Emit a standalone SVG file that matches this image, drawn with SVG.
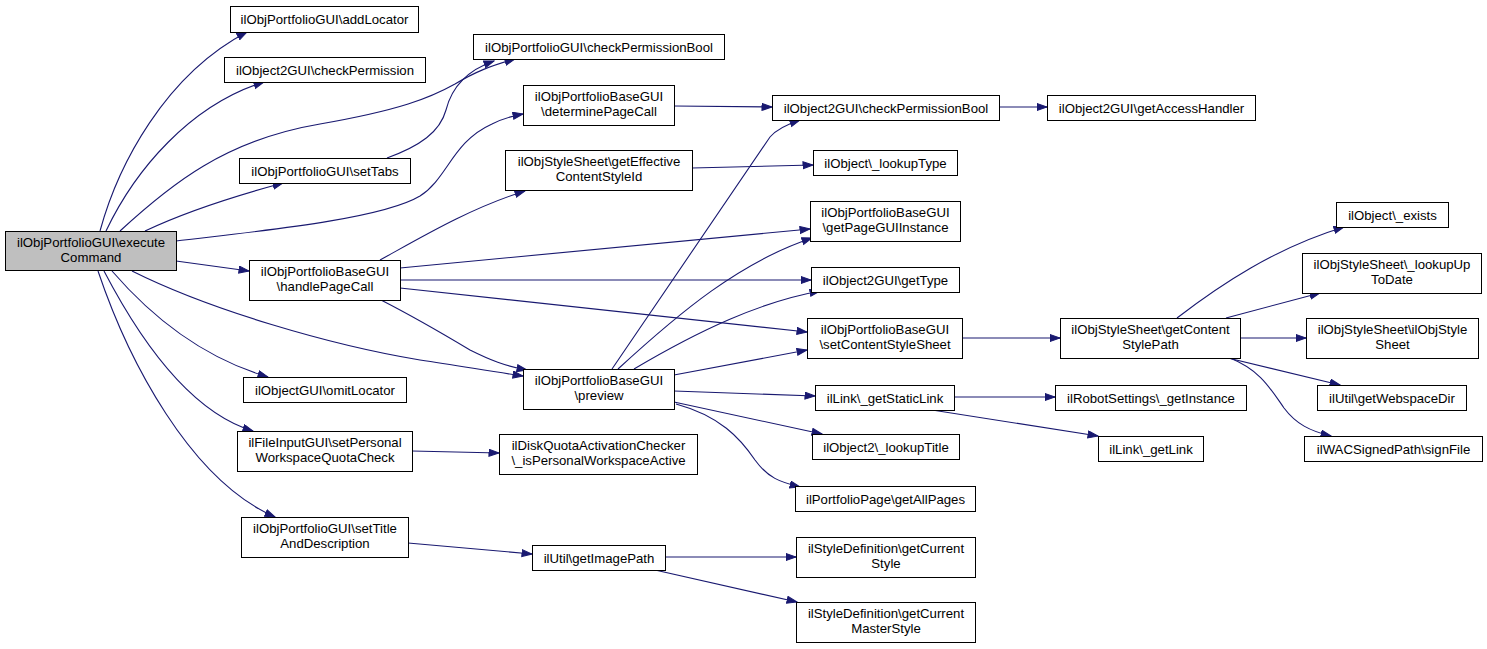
<svg xmlns="http://www.w3.org/2000/svg" width="1487" height="649" viewBox="0 0 1487 649">
<style>
.n rect{fill:#ffffff;stroke:#000000;stroke-width:1}
.n.root rect{fill:#bfbfbf}
.n text{font-family:"Liberation Sans",Arial,sans-serif;font-size:13.2px;fill:#000000;text-anchor:middle}
.e path{fill:none;stroke:#191970;stroke-width:1.1;marker-end:url(#ah)}
</style>
<defs>
<marker id="ah" markerUnits="userSpaceOnUse" markerWidth="12" markerHeight="9" refX="10.5" refY="4" orient="auto">
<path d="M0.5,0.5 L10.5,4 L0.5,7.5 z" fill="#191970" stroke="#191970" stroke-width="1"/>
</marker>
</defs>
<rect width="1487" height="649" fill="#ffffff"/>
<g id="edges" class="e">
<path d="M100,231 C118,165 165,75 247,32"/>
<path d="M106,231 C135,170 190,105 264,82"/>
<path d="M120,231 C170,185 225,140 320,124 C400,110 430,98 455,84 C475,72 490,66 515,59"/>
<path d="M387,158 C420,146 440,132 446,110 C452,86 468,70 494,61"/>
<path d="M145,231 C185,212 235,196 283,183"/>
<path d="M176,241 C250,232 380,220 420,196 C448,178 452,142 492,124 C502,119 512,116 523,114"/>
<path d="M176,261 L249,271"/>
<path d="M132,271 C210,310 330,345 420,360 C460,366 495,372 523,376"/>
<path d="M112,271 C150,315 200,357 268,377"/>
<path d="M104,271 C140,340 190,412 253,431"/>
<path d="M98,271 C128,360 190,480 275,517"/>
<path d="M380,260 C420,238 470,208 525,191"/>
<path d="M400,268 L810,229"/>
<path d="M400,280 L811,280"/>
<path d="M400,288 L807,332"/>
<path d="M381,300 C420,320 445,335 470,350 C490,360 505,366 527,370"/>
<path d="M612,369 L770,137 C776,130 785,125 800,120"/>
<path d="M618,369 C680,312 740,262 812,238"/>
<path d="M634,369 C700,330 760,302 820,291"/>
<path d="M674,375 L807,350"/>
<path d="M674,391 L815,396"/>
<path d="M674,402 L822,434"/>
<path d="M676,404 C720,416 740,438 755,460 C768,478 780,482 800,487"/>
<path d="M674,106 L772,107"/>
<path d="M692,168 L813,165"/>
<path d="M999,107 L1047,107"/>
<path d="M962,338 L1060,338"/>
<path d="M954,397 L1055,397"/>
<path d="M932,410 L1098,436"/>
<path d="M1177,318 C1220,285 1275,248 1344,227"/>
<path d="M1226,318 L1320,293"/>
<path d="M1240,338 L1306,338"/>
<path d="M1228,358 L1340,385"/>
<path d="M1230,358 C1260,370 1270,388 1284,408 C1296,424 1310,431 1331,436"/>
<path d="M412,451 L499,453"/>
<path d="M408,543 L532,554"/>
<path d="M665,557 L796,557"/>
<path d="M655,570 L797,602"/>
</g>
<g id="executeCommand" class="n root"><rect x="5.5" y="231.5" width="171" height="39"/><text x="91" y="246.5">ilObjPortfolioGUI\execute</text><text x="91" y="261.5">Command</text></g>
<g id="addLocator" class="n"><rect x="230.5" y="6.5" width="188" height="26"/><text x="324.5" y="24">ilObjPortfolioGUI\addLocator</text></g>
<g id="checkPermission" class="n"><rect x="224.5" y="57.5" width="201" height="25"/><text x="325" y="74.5">ilObject2GUI\checkPermission</text></g>
<g id="setTabs" class="n"><rect x="239.5" y="158.5" width="171" height="25"/><text x="325" y="175.5">ilObjPortfolioGUI\setTabs</text></g>
<g id="pfCheckPermissionBool" class="n"><rect x="473.5" y="34.5" width="251" height="25"/><text x="599" y="51.5">ilObjPortfolioGUI\checkPermissionBool</text></g>
<g id="determinePageCall" class="n"><rect x="523.5" y="85.5" width="151" height="40"/><text x="599" y="100.5">ilObjPortfolioBaseGUI</text><text x="599" y="115.5">\determinePageCall</text></g>
<g id="getEffectiveContentStyleId" class="n"><rect x="505.5" y="150.5" width="187" height="40"/><text x="599" y="165.5">ilObjStyleSheet\getEffective</text><text x="599" y="180.5">ContentStyleId</text></g>
<g id="o2CheckPermissionBool" class="n"><rect x="772.5" y="95.5" width="227" height="25"/><text x="886" y="112.5">ilObject2GUI\checkPermissionBool</text></g>
<g id="lookupType" class="n"><rect x="813.5" y="150.5" width="144" height="25"/><text x="885.5" y="167.5">ilObject\_lookupType</text></g>
<g id="getPageGUIInstance" class="n"><rect x="810.5" y="201.5" width="150" height="40"/><text x="885.5" y="216.5">ilObjPortfolioBaseGUI</text><text x="885.5" y="231.5">\getPageGUIInstance</text></g>
<g id="getType" class="n"><rect x="811.5" y="267.5" width="148" height="25"/><text x="885.5" y="284.5">ilObject2GUI\getType</text></g>
<g id="setContentStyleSheet" class="n"><rect x="807.5" y="318.5" width="155" height="40"/><text x="885" y="333.5">ilObjPortfolioBaseGUI</text><text x="885" y="348.5">\setContentStyleSheet</text></g>
<g id="handlePageCall" class="n"><rect x="249.5" y="260.5" width="151" height="40"/><text x="325" y="275.5">ilObjPortfolioBaseGUI</text><text x="325" y="290.5">\handlePageCall</text></g>
<g id="preview" class="n"><rect x="523.5" y="369.5" width="151" height="40"/><text x="599" y="384.5">ilObjPortfolioBaseGUI</text><text x="599" y="399.5">\preview</text></g>
<g id="getStaticLink" class="n"><rect x="815.5" y="385.5" width="139" height="25"/><text x="885" y="402.5">ilLink\_getStaticLink</text></g>
<g id="omitLocator" class="n"><rect x="243.5" y="377.5" width="163" height="25"/><text x="325" y="394.5">ilObjectGUI\omitLocator</text></g>
<g id="setPersonalWorkspaceQuotaCheck" class="n"><rect x="237.5" y="431.5" width="175" height="40"/><text x="325" y="446.5">ilFileInputGUI\setPersonal</text><text x="325" y="461.5">WorkspaceQuotaCheck</text></g>
<g id="isPersonalWorkspaceActive" class="n"><rect x="499.5" y="434.5" width="198" height="40"/><text x="598.5" y="449.5">ilDiskQuotaActivationChecker</text><text x="598.5" y="464.5">\_isPersonalWorkspaceActive</text></g>
<g id="setTitleAndDescription" class="n"><rect x="241.5" y="517.5" width="167" height="40"/><text x="325" y="532.5">ilObjPortfolioGUI\setTitle</text><text x="325" y="547.5">AndDescription</text></g>
<g id="getImagePath" class="n"><rect x="532.5" y="545.5" width="133" height="25"/><text x="599" y="562.5">ilUtil\getImagePath</text></g>
<g id="lookupTitle" class="n"><rect x="812.5" y="434.5" width="147" height="25"/><text x="886" y="451.5">ilObject2\_lookupTitle</text></g>
<g id="getAllPages" class="n"><rect x="795.5" y="486.5" width="180" height="25"/><text x="885.5" y="503.5">ilPortfolioPage\getAllPages</text></g>
<g id="getCurrentStyle" class="n"><rect x="796.5" y="537.5" width="179" height="40"/><text x="886" y="552.5">ilStyleDefinition\getCurrent</text><text x="886" y="567.5">Style</text></g>
<g id="getCurrentMasterStyle" class="n"><rect x="796.5" y="602.5" width="179" height="40"/><text x="886" y="617.5">ilStyleDefinition\getCurrent</text><text x="886" y="632.5">MasterStyle</text></g>
<g id="getAccessHandler" class="n"><rect x="1047.5" y="95.5" width="208" height="25"/><text x="1151.5" y="112.5">ilObject2GUI\getAccessHandler</text></g>
<g id="exists" class="n"><rect x="1336.5" y="202.5" width="112" height="25"/><text x="1392.5" y="219.5">ilObject\_exists</text></g>
<g id="lookupUpToDate" class="n"><rect x="1302.5" y="253.5" width="179" height="40"/><text x="1392" y="268.5">ilObjStyleSheet\_lookupUp</text><text x="1392" y="283.5">ToDate</text></g>
<g id="ilObjStyleSheet" class="n"><rect x="1306.5" y="318.5" width="172" height="40"/><text x="1392.5" y="333.5">ilObjStyleSheet\ilObjStyle</text><text x="1392.5" y="348.5">Sheet</text></g>
<g id="getContentStylePath" class="n"><rect x="1060.5" y="318.5" width="180" height="40"/><text x="1150.5" y="333.5">ilObjStyleSheet\getContent</text><text x="1150.5" y="348.5">StylePath</text></g>
<g id="robotGetInstance" class="n"><rect x="1055.5" y="385.5" width="191" height="25"/><text x="1151" y="402.5">ilRobotSettings\_getInstance</text></g>
<g id="getLink" class="n"><rect x="1098.5" y="436.5" width="105" height="25"/><text x="1151" y="453.5">ilLink\_getLink</text></g>
<g id="getWebspaceDir" class="n"><rect x="1317.5" y="385.5" width="149" height="25"/><text x="1392" y="402.5">ilUtil\getWebspaceDir</text></g>
<g id="signFile" class="n"><rect x="1304.5" y="436.5" width="178" height="25"/><text x="1393.5" y="453.5">ilWACSignedPath\signFile</text></g>
</svg>
